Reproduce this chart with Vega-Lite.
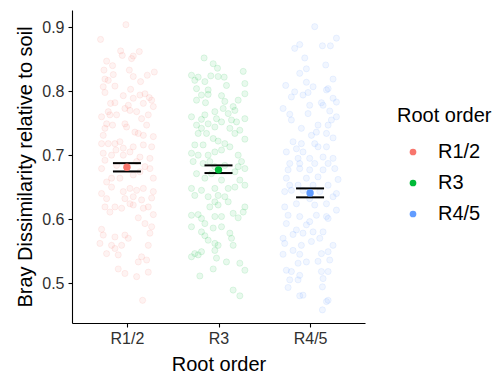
{
"$schema": "https://vega.github.io/schema/vega-lite/v6.json",
"width": 293, "height": 313,
"padding": {"left": 15, "top": 10, "right": 5, "bottom": 3},
"background": "white",
"config": {
 "view": {"stroke": null},
 "font": "Liberation Sans",
 "axis": {"domainColor": "black", "domainWidth": 1.1, "tickColor": "black", "tickWidth": 1.1, "tickSize": 4, "labelFontSize": 16, "labelColor": "#303030", "titleFontSize": 20, "titleFontWeight": "normal", "titleColor": "black", "grid": false, "labelPadding": 3},
 "axisX": {"titlePadding": 8, "labelAngle": 0},
 "axisY": {"titlePadding": 6, "labelPadding": 4}
},
"datasets": {
 "pts": [
{"g":"R1/2","j":-0.011,"v":0.904},{"g":"R1/2","j":-0.288,"v":0.881},{"g":"R1/2","j":-0.069,"v":0.863},{"g":"R1/2","j":-0.051,"v":0.856},{"g":"R1/2","j":0.135,"v":0.862},{"g":"R1/2","j":0.051,"v":0.851},{"g":"R1/2","j":0.069,"v":0.855},{"g":"R1/2","j":-0.222,"v":0.847},{"g":"R1/2","j":-0.157,"v":0.840},{"g":"R1/2","j":-0.251,"v":0.833},{"g":"R1/2","j":0.026,"v":0.833},{"g":"R1/2","j":-0.149,"v":0.826},{"g":"R1/2","j":0.069,"v":0.823},{"g":"R1/2","j":0.222,"v":0.825},{"g":"R1/2","j":0.299,"v":0.830},{"g":"R1/2","j":-0.240,"v":0.819},{"g":"R1/2","j":-0.204,"v":0.817},{"g":"R1/2","j":0.149,"v":0.815},{"g":"R1/2","j":-0.259,"v":0.807},{"g":"R1/2","j":-0.131,"v":0.808},{"g":"R1/2","j":-0.240,"v":0.798},{"g":"R1/2","j":0.040,"v":0.803},{"g":"R1/2","j":-0.040,"v":0.793},{"g":"R1/2","j":0.197,"v":0.796},{"g":"R1/2","j":0.142,"v":0.794},{"g":"R1/2","j":0.244,"v":0.790},{"g":"R1/2","j":0.270,"v":0.786},{"g":"R1/2","j":0.069,"v":0.789},{"g":"R1/2","j":-0.179,"v":0.781},{"g":"R1/2","j":-0.131,"v":0.782},{"g":"R1/2","j":0.015,"v":0.778},{"g":"R1/2","j":0.179,"v":0.781},{"g":"R1/2","j":0.288,"v":0.776},{"g":"R1/2","j":-0.022,"v":0.773},{"g":"R1/2","j":0.033,"v":0.770},{"g":"R1/2","j":0.106,"v":0.768},{"g":"R1/2","j":-0.204,"v":0.768},{"g":"R1/2","j":-0.277,"v":0.760},{"g":"R1/2","j":-0.186,"v":0.763},{"g":"R1/2","j":-0.113,"v":0.763},{"g":"R1/2","j":0.160,"v":0.757},{"g":"R1/2","j":0.233,"v":0.763},{"g":"R1/2","j":-0.222,"v":0.749},{"g":"R1/2","j":-0.157,"v":0.747},{"g":"R1/2","j":-0.240,"v":0.742},{"g":"R1/2","j":-0.022,"v":0.749},{"g":"R1/2","j":-0.004,"v":0.744},{"g":"R1/2","j":0.215,"v":0.747},{"g":"R1/2","j":-0.259,"v":0.731},{"g":"R1/2","j":0.087,"v":0.736},{"g":"R1/2","j":0.124,"v":0.734},{"g":"R1/2","j":0.179,"v":0.731},{"g":"R1/2","j":0.288,"v":0.729},{"g":"R1/2","j":-0.277,"v":0.718},{"g":"R1/2","j":-0.204,"v":0.718},{"g":"R1/2","j":-0.131,"v":0.718},{"g":"R1/2","j":-0.077,"v":0.721},{"g":"R1/2","j":-0.120,"v":0.708},{"g":"R1/2","j":-0.040,"v":0.711},{"g":"R1/2","j":0.069,"v":0.713},{"g":"R1/2","j":0.179,"v":0.716},{"g":"R1/2","j":0.270,"v":0.713},{"g":"R1/2","j":-0.259,"v":0.703},{"g":"R1/2","j":-0.168,"v":0.700},{"g":"R1/2","j":-0.040,"v":0.700},{"g":"R1/2","j":0.033,"v":0.705},{"g":"R1/2","j":0.142,"v":0.697},{"g":"R1/2","j":0.251,"v":0.695},{"g":"R1/2","j":-0.240,"v":0.692},{"g":"R1/2","j":-0.277,"v":0.679},{"g":"R1/2","j":-0.113,"v":0.684},{"g":"R1/2","j":0.106,"v":0.690},{"g":"R1/2","j":0.197,"v":0.682},{"g":"R1/2","j":0.251,"v":0.679},{"g":"R1/2","j":-0.222,"v":0.658},{"g":"R1/2","j":-0.168,"v":0.664},{"g":"R1/2","j":-0.077,"v":0.664},{"g":"R1/2","j":0.069,"v":0.669},{"g":"R1/2","j":0.142,"v":0.674},{"g":"R1/2","j":0.288,"v":0.664},{"g":"R1/2","j":-0.277,"v":0.640},{"g":"R1/2","j":-0.168,"v":0.650},{"g":"R1/2","j":-0.040,"v":0.643},{"g":"R1/2","j":0.033,"v":0.648},{"g":"R1/2","j":0.106,"v":0.645},{"g":"R1/2","j":0.179,"v":0.648},{"g":"R1/2","j":0.288,"v":0.643},{"g":"R1/2","j":-0.222,"v":0.632},{"g":"R1/2","j":-0.022,"v":0.632},{"g":"R1/2","j":0.069,"v":0.635},{"g":"R1/2","j":0.160,"v":0.630},{"g":"R1/2","j":0.270,"v":0.633},{"g":"R1/2","j":-0.240,"v":0.619},{"g":"R1/2","j":-0.131,"v":0.619},{"g":"R1/2","j":-0.058,"v":0.617},{"g":"R1/2","j":0.033,"v":0.624},{"g":"R1/2","j":0.069,"v":0.622},{"g":"R1/2","j":0.179,"v":0.617},{"g":"R1/2","j":0.233,"v":0.619},{"g":"R1/2","j":0.288,"v":0.607},{"g":"R1/2","j":-0.186,"v":0.611},{"g":"R1/2","j":0.124,"v":0.602},{"g":"R1/2","j":0.197,"v":0.593},{"g":"R1/2","j":0.270,"v":0.588},{"g":"R1/2","j":-0.277,"v":0.584},{"g":"R1/2","j":-0.259,"v":0.575},{"g":"R1/2","j":-0.131,"v":0.572},{"g":"R1/2","j":-0.022,"v":0.575},{"g":"R1/2","j":0.015,"v":0.570},{"g":"R1/2","j":0.251,"v":0.578},{"g":"R1/2","j":-0.295,"v":0.562},{"g":"R1/2","j":-0.168,"v":0.559},{"g":"R1/2","j":-0.131,"v":0.554},{"g":"R1/2","j":-0.058,"v":0.559},{"g":"R1/2","j":0.233,"v":0.559},{"g":"R1/2","j":-0.222,"v":0.546},{"g":"R1/2","j":-0.095,"v":0.544},{"g":"R1/2","j":0.160,"v":0.541},{"g":"R1/2","j":0.215,"v":0.536},{"g":"R1/2","j":0.124,"v":0.533},{"g":"R1/2","j":-0.095,"v":0.522},{"g":"R1/2","j":-0.022,"v":0.515},{"g":"R1/2","j":0.106,"v":0.510},{"g":"R1/2","j":0.233,"v":0.517},{"g":"R1/2","j":0.171,"v":0.473},
{"g":"R3","j":-0.157,"v":0.852},{"g":"R3","j":-0.058,"v":0.843},{"g":"R3","j":-0.011,"v":0.836},{"g":"R3","j":0.270,"v":0.831},{"g":"R3","j":-0.295,"v":0.825},{"g":"R3","j":-0.222,"v":0.822},{"g":"R3","j":-0.084,"v":0.824},{"g":"R3","j":-0.004,"v":0.823},{"g":"R3","j":0.062,"v":0.822},{"g":"R3","j":-0.259,"v":0.817},{"g":"R3","j":-0.149,"v":0.815},{"g":"R3","j":0.288,"v":0.812},{"g":"R3","j":0.087,"v":0.809},{"g":"R3","j":-0.240,"v":0.804},{"g":"R3","j":-0.113,"v":0.802},{"g":"R3","j":0.288,"v":0.796},{"g":"R3","j":-0.186,"v":0.794},{"g":"R3","j":-0.113,"v":0.795},{"g":"R3","j":0.033,"v":0.793},{"g":"R3","j":-0.240,"v":0.786},{"g":"R3","j":-0.142,"v":0.782},{"g":"R3","j":0.069,"v":0.784},{"g":"R3","j":0.215,"v":0.786},{"g":"R3","j":0.051,"v":0.773},{"g":"R3","j":0.160,"v":0.776},{"g":"R3","j":0.179,"v":0.770},{"g":"R3","j":-0.040,"v":0.768},{"g":"R3","j":0.106,"v":0.765},{"g":"R3","j":-0.295,"v":0.760},{"g":"R3","j":-0.149,"v":0.763},{"g":"R3","j":-0.186,"v":0.756},{"g":"R3","j":-0.022,"v":0.757},{"g":"R3","j":0.142,"v":0.755},{"g":"R3","j":0.288,"v":0.757},{"g":"R3","j":-0.113,"v":0.749},{"g":"R3","j":0.033,"v":0.752},{"g":"R3","j":0.197,"v":0.752},{"g":"R3","j":-0.240,"v":0.747},{"g":"R3","j":-0.186,"v":0.742},{"g":"R3","j":-0.040,"v":0.744},{"g":"R3","j":0.124,"v":0.742},{"g":"R3","j":0.233,"v":0.739},{"g":"R3","j":-0.222,"v":0.734},{"g":"R3","j":-0.131,"v":0.734},{"g":"R3","j":0.179,"v":0.734},{"g":"R3","j":-0.058,"v":0.726},{"g":"R3","j":-0.004,"v":0.722},{"g":"R3","j":0.069,"v":0.718},{"g":"R3","j":0.288,"v":0.725},{"g":"R3","j":-0.259,"v":0.716},{"g":"R3","j":-0.168,"v":0.716},{"g":"R3","j":0.124,"v":0.713},{"g":"R3","j":-0.040,"v":0.705},{"g":"R3","j":0.033,"v":0.708},{"g":"R3","j":0.215,"v":0.700},{"g":"R3","j":-0.295,"v":0.703},{"g":"R3","j":-0.222,"v":0.700},{"g":"R3","j":-0.113,"v":0.700},{"g":"R3","j":-0.277,"v":0.690},{"g":"R3","j":-0.168,"v":0.687},{"g":"R3","j":-0.095,"v":0.690},{"g":"R3","j":0.251,"v":0.690},{"g":"R3","j":-0.040,"v":0.682},{"g":"R3","j":0.069,"v":0.684},{"g":"R3","j":0.215,"v":0.682},{"g":"R3","j":0.288,"v":0.679},{"g":"R3","j":-0.240,"v":0.671},{"g":"R3","j":-0.077,"v":0.671},{"g":"R3","j":0.179,"v":0.674},{"g":"R3","j":-0.149,"v":0.664},{"g":"R3","j":0.033,"v":0.661},{"g":"R3","j":0.233,"v":0.661},{"g":"R3","j":0.288,"v":0.653},{"g":"R3","j":-0.295,"v":0.648},{"g":"R3","j":-0.186,"v":0.645},{"g":"R3","j":-0.040,"v":0.648},{"g":"R3","j":0.106,"v":0.648},{"g":"R3","j":0.179,"v":0.650},{"g":"R3","j":-0.259,"v":0.637},{"g":"R3","j":-0.113,"v":0.635},{"g":"R3","j":-0.004,"v":0.637},{"g":"R3","j":0.069,"v":0.635},{"g":"R3","j":-0.040,"v":0.627},{"g":"R3","j":0.106,"v":0.627},{"g":"R3","j":-0.095,"v":0.619},{"g":"R3","j":-0.004,"v":0.622},{"g":"R3","j":0.288,"v":0.619},{"g":"R3","j":0.270,"v":0.611},{"g":"R3","j":0.160,"v":0.609},{"g":"R3","j":-0.295,"v":0.606},{"g":"R3","j":-0.222,"v":0.607},{"g":"R3","j":-0.186,"v":0.601},{"g":"R3","j":-0.040,"v":0.604},{"g":"R3","j":0.033,"v":0.604},{"g":"R3","j":0.215,"v":0.602},{"g":"R3","j":-0.295,"v":0.588},{"g":"R3","j":-0.149,"v":0.593},{"g":"R3","j":-0.058,"v":0.586},{"g":"R3","j":0.033,"v":0.588},{"g":"R3","j":-0.186,"v":0.580},{"g":"R3","j":-0.149,"v":0.574},{"g":"R3","j":0.124,"v":0.578},{"g":"R3","j":-0.113,"v":0.567},{"g":"R3","j":0.142,"v":0.570},{"g":"R3","j":-0.040,"v":0.562},{"g":"R3","j":0.160,"v":0.559},{"g":"R3","j":-0.004,"v":0.559},{"g":"R3","j":-0.259,"v":0.546},{"g":"R3","j":-0.186,"v":0.549},{"g":"R3","j":-0.040,"v":0.551},{"g":"R3","j":-0.222,"v":0.544},{"g":"R3","j":-0.295,"v":0.541},{"g":"R3","j":-0.022,"v":0.539},{"g":"R3","j":0.087,"v":0.533},{"g":"R3","j":0.233,"v":0.531},{"g":"R3","j":0.288,"v":0.520},{"g":"R3","j":-0.058,"v":0.522},{"g":"R3","j":-0.204,"v":0.511},{"g":"R3","j":0.160,"v":0.489},{"g":"R3","j":0.233,"v":0.480},
{"g":"R4/5","j":0.051,"v":0.901},{"g":"R4/5","j":0.288,"v":0.883},{"g":"R4/5","j":-0.168,"v":0.867},{"g":"R4/5","j":-0.113,"v":0.873},{"g":"R4/5","j":0.135,"v":0.871},{"g":"R4/5","j":0.222,"v":0.871},{"g":"R4/5","j":-0.058,"v":0.852},{"g":"R4/5","j":0.171,"v":0.841},{"g":"R4/5","j":-0.113,"v":0.828},{"g":"R4/5","j":-0.040,"v":0.835},{"g":"R4/5","j":0.251,"v":0.819},{"g":"R4/5","j":-0.040,"v":0.814},{"g":"R4/5","j":-0.266,"v":0.809},{"g":"R4/5","j":0.033,"v":0.807},{"g":"R4/5","j":-0.168,"v":0.799},{"g":"R4/5","j":-0.077,"v":0.794},{"g":"R4/5","j":-0.022,"v":0.798},{"g":"R4/5","j":0.179,"v":0.802},{"g":"R4/5","j":0.197,"v":0.804},{"g":"R4/5","j":-0.204,"v":0.791},{"g":"R4/5","j":0.251,"v":0.789},{"g":"R4/5","j":0.288,"v":0.783},{"g":"R4/5","j":0.124,"v":0.782},{"g":"R4/5","j":-0.004,"v":0.778},{"g":"R4/5","j":-0.295,"v":0.773},{"g":"R4/5","j":-0.222,"v":0.764},{"g":"R4/5","j":-0.204,"v":0.755},{"g":"R4/5","j":-0.022,"v":0.765},{"g":"R4/5","j":0.142,"v":0.778},{"g":"R4/5","j":0.215,"v":0.769},{"g":"R4/5","j":0.288,"v":0.760},{"g":"R4/5","j":0.233,"v":0.755},{"g":"R4/5","j":0.197,"v":0.747},{"g":"R4/5","j":0.087,"v":0.747},{"g":"R4/5","j":-0.095,"v":0.742},{"g":"R4/5","j":0.069,"v":0.736},{"g":"R4/5","j":0.179,"v":0.734},{"g":"R4/5","j":0.015,"v":0.731},{"g":"R4/5","j":0.251,"v":0.727},{"g":"R4/5","j":-0.186,"v":0.721},{"g":"R4/5","j":-0.095,"v":0.718},{"g":"R4/5","j":0.051,"v":0.718},{"g":"R4/5","j":-0.149,"v":0.710},{"g":"R4/5","j":-0.077,"v":0.705},{"g":"R4/5","j":0.087,"v":0.713},{"g":"R4/5","j":0.179,"v":0.713},{"g":"R4/5","j":-0.259,"v":0.705},{"g":"R4/5","j":-0.131,"v":0.695},{"g":"R4/5","j":-0.004,"v":0.695},{"g":"R4/5","j":0.142,"v":0.697},{"g":"R4/5","j":0.251,"v":0.695},{"g":"R4/5","j":-0.222,"v":0.687},{"g":"R4/5","j":-0.113,"v":0.687},{"g":"R4/5","j":0.051,"v":0.687},{"g":"R4/5","j":0.197,"v":0.687},{"g":"R4/5","j":-0.240,"v":0.677},{"g":"R4/5","j":-0.113,"v":0.679},{"g":"R4/5","j":-0.004,"v":0.677},{"g":"R4/5","j":0.142,"v":0.677},{"g":"R4/5","j":0.270,"v":0.679},{"g":"R4/5","j":-0.259,"v":0.664},{"g":"R4/5","j":-0.040,"v":0.664},{"g":"R4/5","j":0.087,"v":0.666},{"g":"R4/5","j":0.306,"v":0.662},{"g":"R4/5","j":-0.222,"v":0.653},{"g":"R4/5","j":-0.131,"v":0.653},{"g":"R4/5","j":0.033,"v":0.653},{"g":"R4/5","j":0.197,"v":0.653},{"g":"R4/5","j":-0.277,"v":0.643},{"g":"R4/5","j":-0.204,"v":0.645},{"g":"R4/5","j":-0.077,"v":0.645},{"g":"R4/5","j":0.106,"v":0.643},{"g":"R4/5","j":0.288,"v":0.640},{"g":"R4/5","j":-0.004,"v":0.632},{"g":"R4/5","j":0.251,"v":0.635},{"g":"R4/5","j":-0.277,"v":0.619},{"g":"R4/5","j":-0.149,"v":0.624},{"g":"R4/5","j":0.051,"v":0.622},{"g":"R4/5","j":0.179,"v":0.624},{"g":"R4/5","j":0.288,"v":0.614},{"g":"R4/5","j":-0.240,"v":0.606},{"g":"R4/5","j":-0.113,"v":0.604},{"g":"R4/5","j":0.069,"v":0.606},{"g":"R4/5","j":0.179,"v":0.604},{"g":"R4/5","j":-0.259,"v":0.593},{"g":"R4/5","j":-0.040,"v":0.591},{"g":"R4/5","j":-0.004,"v":0.596},{"g":"R4/5","j":0.197,"v":0.601},{"g":"R4/5","j":-0.149,"v":0.583},{"g":"R4/5","j":0.033,"v":0.580},{"g":"R4/5","j":0.142,"v":0.580},{"g":"R4/5","j":-0.295,"v":0.570},{"g":"R4/5","j":-0.186,"v":0.576},{"g":"R4/5","j":-0.077,"v":0.578},{"g":"R4/5","j":0.106,"v":0.570},{"g":"R4/5","j":-0.277,"v":0.562},{"g":"R4/5","j":-0.095,"v":0.559},{"g":"R4/5","j":0.015,"v":0.565},{"g":"R4/5","j":0.251,"v":0.559},{"g":"R4/5","j":0.197,"v":0.549},{"g":"R4/5","j":-0.186,"v":0.551},{"g":"R4/5","j":-0.113,"v":0.545},{"g":"R4/5","j":0.124,"v":0.546},{"g":"R4/5","j":-0.295,"v":0.545},{"g":"R4/5","j":-0.131,"v":0.531},{"g":"R4/5","j":-0.040,"v":0.533},{"g":"R4/5","j":0.087,"v":0.534},{"g":"R4/5","j":0.215,"v":0.536},{"g":"R4/5","j":-0.204,"v":0.518},{"g":"R4/5","j":-0.113,"v":0.512},{"g":"R4/5","j":0.124,"v":0.518},{"g":"R4/5","j":0.197,"v":0.518},{"g":"R4/5","j":-0.259,"v":0.520},{"g":"R4/5","j":-0.222,"v":0.505},{"g":"R4/5","j":-0.131,"v":0.505},{"g":"R4/5","j":0.142,"v":0.507},{"g":"R4/5","j":-0.240,"v":0.493},{"g":"R4/5","j":0.135,"v":0.494},{"g":"R4/5","j":-0.113,"v":0.480},{"g":"R4/5","j":-0.077,"v":0.481},{"g":"R4/5","j":0.179,"v":0.471},{"g":"R4/5","j":0.197,"v":0.473},{"g":"R4/5","j":0.135,"v":0.458}
 ],
 "stats": [
  {"g":"R1/2","mean":0.681,"lo":0.6745,"hi":0.6875},
  {"g":"R3","mean":0.677,"lo":0.672,"hi":0.684},
  {"g":"R4/5","mean":0.641,"lo":0.634,"hi":0.648}
 ]
},
"encoding": {
 "x": {"field": "g", "type": "nominal", "sort": ["R1/2","R3","R4/5"], "scale": {"type": "point", "padding": 0.6}, "title": "Root order"},
 "color": {"field": "g", "type": "nominal", "sort": ["R1/2","R3","R4/5"], "title": "Root order",
   "scale": {"domain": ["R1/2","R3","R4/5"], "range": ["#F8766D","#00BA38","#619CFF"]},
   "legend": {"orient": "none", "legendX": 325, "legendY": 96, "titleFontSize": 20, "titleFontWeight": "normal", "titleColor": "black", "labelFontSize": 20, "labelColor": "black", "symbolType": "circle", "symbolSize": 45, "symbolOpacity": 1, "symbolStrokeWidth": 0, "rowPadding": 11, "titlePadding": 16, "symbolOffset": 6, "labelOffset": 15}}
},
"layer": [
 {"data": {"name": "pts"},
  "mark": {"type": "circle", "size": 38, "fillOpacity": 0.09, "strokeOpacity": 0.11, "strokeWidth": 1},
  "encoding": {
   "xOffset": {"field": "j", "type": "quantitative", "scale": {"domain": [-1, 1], "range": [-91.56, 91.56]}},
   "y": {"field": "v", "type": "quantitative", "title": "Bray Dissimilarity relative to soil", "scale": {"domain": [0.4375, 0.927], "nice": false, "zero": false}, "axis": {"values": [0.5,0.6,0.7,0.8,0.9], "format": ".1f"}},
   "stroke": {"field": "g", "type": "nominal", "scale": {"domain": ["R1/2","R3","R4/5"], "range": ["#F8766D","#00BA38","#619CFF"]}, "legend": null}
  }},
 {"data": {"name": "stats"},
  "mark": {"type": "tick", "thickness": 2, "size": 28, "opacity": 1},
  "encoding": {"y": {"field": "hi", "type": "quantitative", "title": "Bray Dissimilarity relative to soil"}, "color": {"value": "black"}}},
 {"data": {"name": "stats"},
  "mark": {"type": "tick", "thickness": 2, "size": 28, "opacity": 1},
  "encoding": {"y": {"field": "lo", "type": "quantitative", "title": "Bray Dissimilarity relative to soil"}, "color": {"value": "black"}}},
 {"data": {"name": "stats"},
  "mark": {"type": "circle", "size": 55, "opacity": 1},
  "encoding": {"y": {"field": "mean", "type": "quantitative", "title": "Bray Dissimilarity relative to soil"}}}
]
}
